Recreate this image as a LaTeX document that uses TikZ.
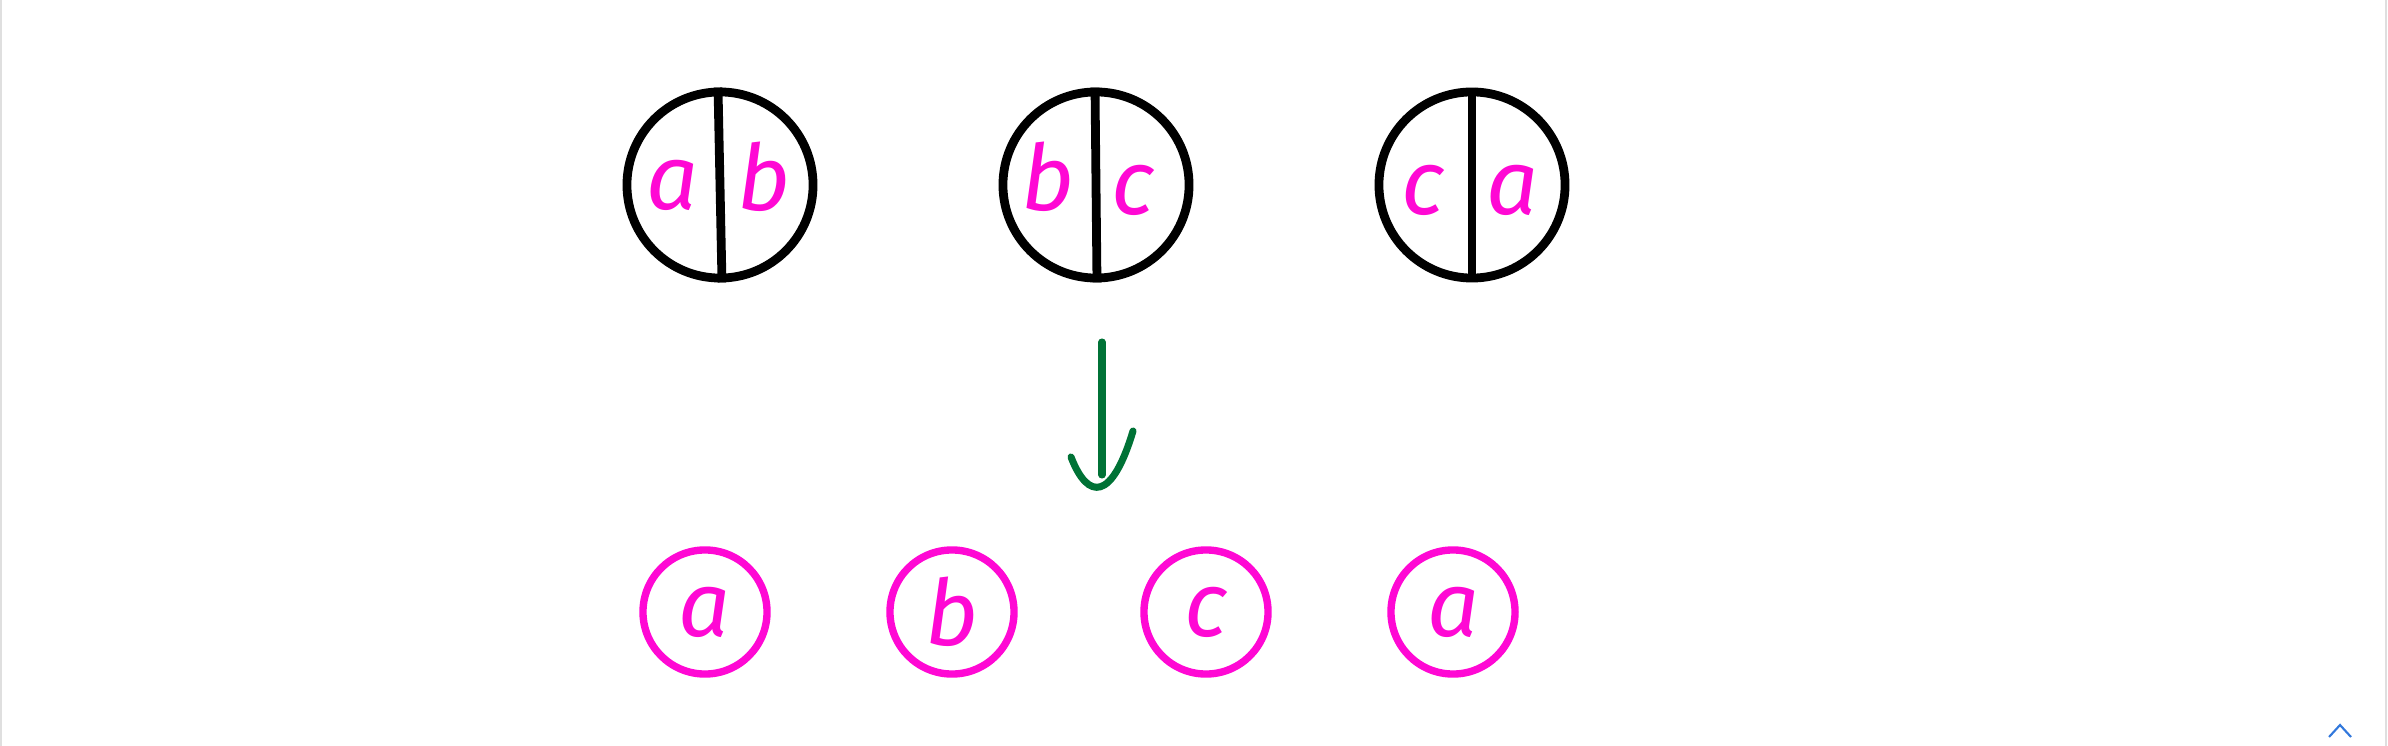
\documentclass[tikz,border=0pt]{standalone}
\usepackage{fontspec}
\setmainfont{Fira Sans}
\usepackage{tikz}
\definecolor{pen}{RGB}{255,8,212}
\definecolor{arrowgreen}{RGB}{0,114,54}
\definecolor{uiblue}{RGB}{50,120,220}

\begin{document}
\begin{tikzpicture}[x=0.01cm,y=-0.01cm,
    pair/.style={draw,circle,line width=2.5pt,minimum size=1.86cm,inner sep=0},
    single/.style={draw=pen,circle,line width=2.1pt,minimum size=1.24cm,inner sep=0,text=pen,font=\fontsize{26}{26}\selectfont\itshape},
    letter/.style={text=pen,inner sep=0,font=\fontsize{26}{26}\selectfont\itshape},
    arrowline/.style={draw=arrowgreen,line width=2pt,line cap=round}]
        \useasboundingbox (0,0) rectangle (2388,746);
        \draw[gray!25,line width=0.6pt] (1,0) -- (1,746) (2386,0) -- (2386,746);
        % top: split circles
        \node[pair] (ab) at (720,185) {};
        \node[pair] (bc) at (1096,185) {};
        \node[pair] (ca) at (1472,185) {};
        \draw[line width=2.5pt] ([xshift=-0.02cm]ab.north) -- ([xshift=0.02cm]ab.south);
        \draw[line width=2.5pt] ([xshift=-0.01cm]bc.north) -- ([xshift=0.01cm]bc.south);
        \draw[line width=2.5pt] (ca.north) -- (ca.south);
        \node[letter] (ab-a) at (673,185) {a};
        \node[letter] (ab-b) at (764,177) {b};
        \node[letter] (bc-b) at (1048,177) {b};
        \node[letter] (bc-c) at (1133,190) {c};
        \node[letter] (ca-c) at (1423,190) {c};
        \node[letter] (ca-a) at (1512,190) {a};
        % arrow
        \coordinate (from) at (1102,342);
        \coordinate (to) at (1102,475);
        \draw[arrowline] (from) -- (to);
        \draw[arrowline] ([shift={(-31,-18)}]to) .. controls ([shift={(-14,26)}]to) and ([shift={(10,26)}]to) .. ([shift={(31,-44)}]to);
        % bottom: single circles
        \node[single] (a1) at (705,612) {a};
        \node[single] (b1) at (952,612) {b};
        \node[single] (c1) at (1206,612) {c};
        \node[single] (a2) at (1453,612) {a};
        \draw[uiblue,line width=0.6pt] (2329,737) -- (2340,725) -- (2351,737);
      \end{tikzpicture}
\end{document}
